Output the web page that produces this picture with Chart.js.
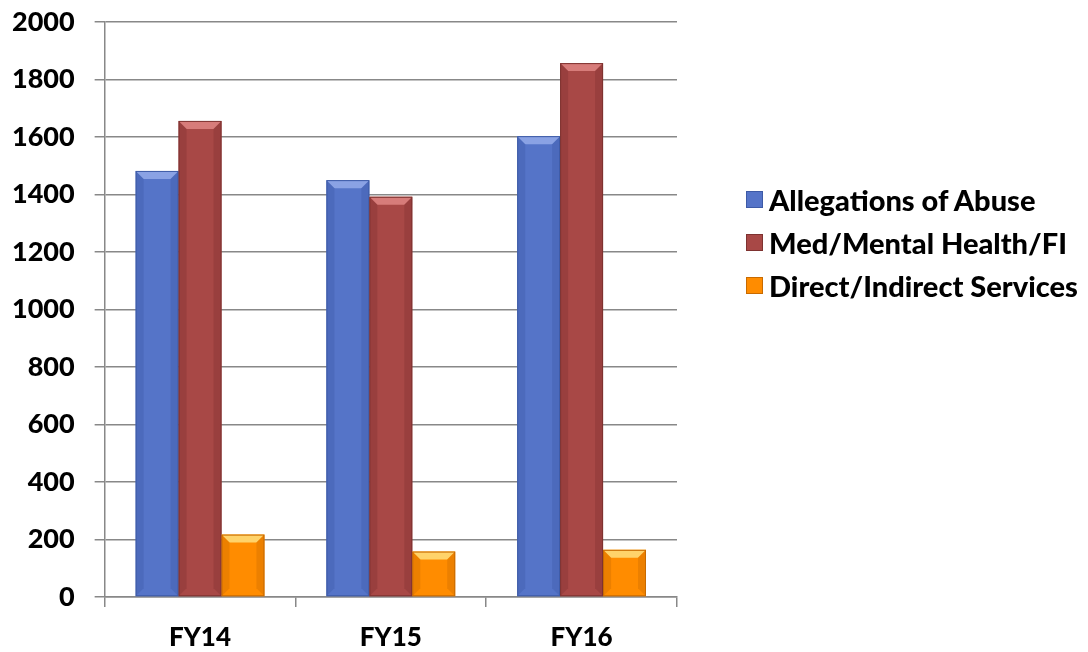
<!DOCTYPE html>
<html>
<head>
<meta charset="utf-8">
<script src="https://cdn.jsdelivr.net/npm/chart.js@4.4.1/dist/chart.umd.min.js"></script>
<style>
  html, body { margin: 0; padding: 0; background: #fff; }
  #wrap { position: relative; width: 1088px; height: 652px; }
  #legend { position: absolute; left: 746px; top: 178px; font-family: Lato, sans-serif; font-weight: 900; font-size: 29px; color: #000; }
  #legend div { height: 43px; display: flex; align-items: center; }
  #legend span.box { display: inline-block; width: 17px; height: 17px; margin-right: 6px; box-sizing: border-box; }
</style>
</head>
<body>
<div id="wrap">
  <canvas id="chart" width="1088" height="652"></canvas>
  <div id="legend"></div>
</div>
<script>
const categories = ['FY14', 'FY15', 'FY16'];
const seriesNames = ['Allegations of Abuse', 'Med/Mental Health/FI', 'Direct/Indirect Services'];
const allegations = [1482, 1450, 1603];
const medMental = [1656, 1392, 1857];
const directIndirect = [217, 158, 164];
const yTicks = [0, 200, 400, 600, 800, 1000, 1200, 1400, 1600, 1800, 2000];

const fills = ['#5574c8', '#a84846', '#ff8c00'];
const lights = ['#8aa2e4', '#d77c7a', '#ffd36a'];
const edges = ['#3d5aa6', '#7e3230', '#c86a00'];

const xFont = { family: 'Lato, sans-serif', weight: 900, size: 26 };
const yFont = { family: 'Lato, sans-serif', weight: 900, size: 27 };

// light bevel on the top of each bar, darker edges on the sides
const bevel = {
  id: 'bevel',
  afterDatasetsDraw(chart) {
    const c = chart.ctx;
    chart.data.datasets.forEach((ds, i) => {
      chart.getDatasetMeta(i).data.forEach(bar => {
        const l = bar.x - bar.width / 2, r = bar.x + bar.width / 2;
        const t = bar.y, b = bar.base, d = 8;
        c.save();
        c.fillStyle = lights[i];
        c.beginPath();
        c.moveTo(l, t); c.lineTo(r, t); c.lineTo(r - d, t + d); c.lineTo(l + d, t + d);
        c.closePath(); c.fill();
        c.globalAlpha = 0.35;
        c.fillStyle = edges[i];
        c.beginPath();
        c.moveTo(l, t); c.lineTo(l + d, t + d); c.lineTo(l + d, b - d); c.lineTo(l, b);
        c.closePath(); c.fill();
        c.beginPath();
        c.moveTo(r, t); c.lineTo(r - d, t + d); c.lineTo(r - d, b - d); c.lineTo(r, b);
        c.closePath(); c.fill();
        c.globalAlpha = 1;
        c.strokeStyle = edges[i];
        c.lineWidth = 1;
        c.strokeRect(l + 0.5, t + 0.5, r - l - 1, b - t - 1);
        c.restore();
      });
    });
  }
};

new Chart(document.getElementById('chart'), {
  type: 'bar',
  data: {
    labels: categories,
    datasets: [allegations, medMental, directIndirect].map((d, i) => ({
      label: seriesNames[i],
      data: d,
      backgroundColor: fills[i],
      borderWidth: 0,
      categoryPercentage: 0.675,
      barPercentage: 1
    }))
  },
  plugins: [bevel],
  options: {
    responsive: false,
    animation: false,
    layout: { padding: { top: 22, right: 411, left: -8, bottom: 0 } },
    plugins: { legend: { display: false }, tooltip: { enabled: false } },
    scales: {
      x: {
        afterFit: axis => { axis.height = 55; },
        grid: { offset: true, drawOnChartArea: false, drawTicks: true, tickLength: 10, color: '#888', lineWidth: 1.5 },
        border: { color: '#888', width: 1.5 },
        ticks: { font: xFont, color: '#000', padding: 15 }
      },
      y: {
        min: 0,
        max: 2000,
        afterBuildTicks: axis => { axis.ticks = yTicks.map(v => ({ value: v })); },
        afterFit: axis => { axis.paddingTop = 0; },
        grid: { color: '#888', lineWidth: 1.5, tickLength: 10 },
        border: { color: '#888', width: 1.5 },
        ticks: { font: yFont, color: '#000', padding: 20, callback: v => String(v) }
      }
    }
  }
});

const legend = document.getElementById('legend');
seriesNames.forEach((name, i) => {
  const row = document.createElement('div');
  row.innerHTML = '<span class="box" style="background:' + fills[i] + ';border:1px solid ' + edges[i] + '"></span>' + name;
  legend.appendChild(row);
});
</script>
</body>
</html>
